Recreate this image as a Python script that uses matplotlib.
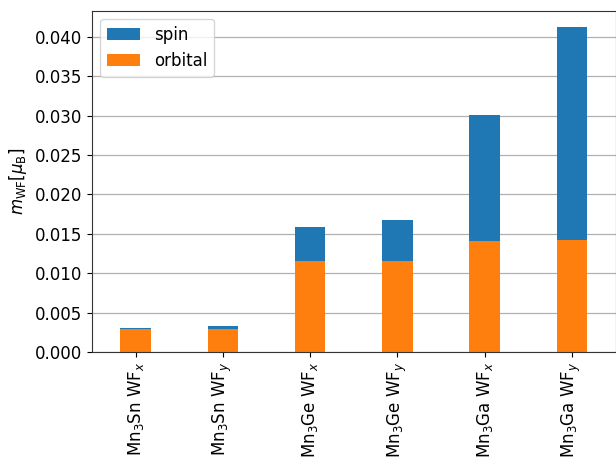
import matplotlib
matplotlib.use("Agg")
import matplotlib.pyplot as plt
import numpy as np

labels = [
    r"Mn$_3$Sn WF$_x$", r"Mn$_3$Sn WF$_y$",
    r"Mn$_3$Ge WF$_x$", r"Mn$_3$Ge WF$_y$",
    r"Mn$_3$Ga WF$_x$", r"Mn$_3$Ga WF$_y$",
]
orbital = [0.00288, 0.00290, 0.01153, 0.01153, 0.01403, 0.01416]
total = [0.00302, 0.00330, 0.01585, 0.01674, 0.03013, 0.04127]
spin = [t - o for t, o in zip(total, orbital)]

plt.rcParams["font.size"] = 12

fig = plt.figure(figsize=(6.16, 4.59), dpi=100)
ax = fig.add_axes([92 / 616, 1 - 352 / 459, 523.5 / 616, (352 - 10.7) / 459])

x = np.arange(len(labels))
width = 0.35
ax.bar(x, spin, width, bottom=orbital, color="#1f77b4", label="spin")
ax.bar(x, orbital, width, color="#ff7f0e", label="orbital")

ax.set_axisbelow(True)
ax.yaxis.grid(True, color="#b0b0b0", linewidth=0.9)
for s in ax.spines.values():
    s.set_color("#333333")
ax.set_xticks(x)
ax.set_xticklabels(labels, rotation=90)
ax.set_xlim(-0.5, 5.5)
ax.set_ylabel(r"$m_{\mathrm{WF}} [\mu_\mathrm{B}]$")
ax.legend(loc="upper left")

fig.savefig("out.png", dpi=100)
